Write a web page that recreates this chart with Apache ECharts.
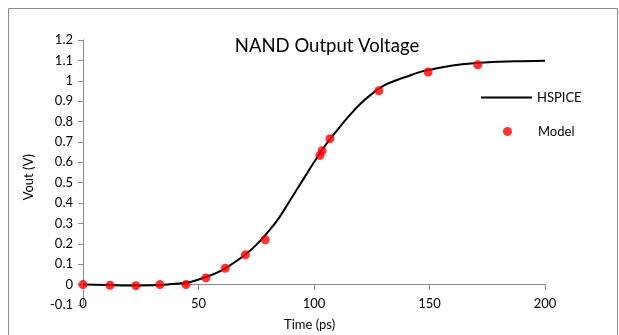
<!DOCTYPE html>
<html>
<head>
<meta charset="utf-8">
<script src="https://cdn.jsdelivr.net/npm/echarts@6/dist/echarts.min.js"></script>
<style>
html, body { margin: 0; padding: 0; background: #fff; }
#main { width: 619px; height: 335px; }
</style>
</head>
<body>
<div id="main"></div>
<script>
// HSPICE curve
var hspiceTime = [0, 10, 20, 30, 40, 45, 50, 55, 60, 65, 70, 75, 80, 85, 90, 95, 100, 105, 110, 115, 120, 125, 130, 135, 140, 145, 150, 160, 170, 180, 190, 200];
var hspiceVout = [0, -0.002, -0.004, -0.003, 0.004, 0.01, 0.025, 0.045, 0.07, 0.105, 0.145, 0.195, 0.257, 0.33, 0.42, 0.51, 0.6, 0.685, 0.757, 0.825, 0.886, 0.935, 0.975, 1.0, 1.02, 1.04, 1.054, 1.075, 1.087, 1.093, 1.096, 1.098];

// model points
var modelTime = [0, 11.7, 22.9, 33.3, 44.6, 53.2, 61.6, 70.3, 78.9, 102.6, 103.5, 106.9, 128.1, 149.4, 170.9];
var modelVout = [0, -0.003, -0.005, 0, 0, 0.033, 0.08, 0.146, 0.22, 0.634, 0.657, 0.716, 0.951, 1.043, 1.078];

var myChart = echarts.init(document.getElementById('main'));

var lineData = [];
for (var i = 0; i < hspiceTime.length; i++) {
    lineData.push([hspiceTime[i], hspiceVout[i]]);
}
var dotData = [];
for (var i = 0; i < modelTime.length; i++) {
    dotData.push([modelTime[i], modelVout[i]]);
}

var font = 'Lato, "Open Sans", sans-serif';

// x axis sits on y = 0, one 0.1 V step above the bottom of the grid
var stepPx = (335 - 40 - 30) / 13;

var option = {
    animation: false,
    textStyle: { fontFamily: font },
    title: {
        text: 'NAND Output Voltage',
        left: 322,
        textAlign: 'center',
        top: 32,
        textStyle: { fontSize: 18.5, fontWeight: 'normal', color: '#000', fontFamily: font }
    },
    graphic: [
        {
            type: 'rect',
            shape: { x: 8.5, y: 8.5, width: 609, height: 340 },
            style: { fill: 'none', stroke: '#8c8c8c', lineWidth: 1 },
            silent: true
        },
        {
            type: 'text',
            left: 22,
            top: 154,
            rotation: Math.PI / 2,
            style: { text: 'Vout (V)', fontSize: 13, fill: '#000', fontFamily: font }
        },
        {
            type: 'text',
            left: 284,
            top: 318,
            style: { text: 'Time (ps)', fontSize: 13, fill: '#000', fontFamily: font }
        }
    ],
    legend: [
        {
            data: ['HSPICE'],
            left: 476,
            top: 86,
            icon: 'rect',
            itemWidth: 51,
            itemHeight: 2,
            textStyle: { fontSize: 13, color: '#000', fontFamily: font }
        },
        {
            data: ['Model'],
            left: 498,
            top: 120,
            icon: 'circle',
            itemWidth: 9,
            itemHeight: 9,
            textStyle: { fontSize: 13, color: '#000', fontFamily: font, padding: [0, 0, 0, 21] }
        }
    ],
    grid: { left: 83, right: 74, top: 40, bottom: 30, containLabel: false },
    xAxis: {
        type: 'value',
        min: 0,
        max: 200,
        interval: 50,
        offset: -stepPx,
        axisLine: { onZero: false, lineStyle: { color: '#8c8c8c' } },
        axisTick: { length: 5, lineStyle: { color: '#8c8c8c' } },
        axisLabel: { margin: 13, fontSize: 13, color: '#000', fontFamily: font },
        splitLine: { show: false }
    },
    yAxis: {
        type: 'value',
        min: -0.1,
        max: 1.2,
        interval: 0.1,
        axisLine: { show: true, onZero: false, lineStyle: { color: '#8c8c8c' } },
        axisTick: { show: true, length: 5, lineStyle: { color: '#8c8c8c' } },
        axisLabel: { margin: 10, fontSize: 13, color: '#000', fontFamily: font },
        splitLine: { show: false }
    },
    series: [
        {
            name: 'HSPICE',
            type: 'line',
            data: lineData,
            smooth: 0.5,
            showSymbol: false,
            lineStyle: { color: '#000', width: 2 },
            itemStyle: { color: '#000' },
            z: 2
        },
        {
            name: 'Model',
            type: 'scatter',
            data: dotData,
            symbolSize: 9,
            itemStyle: { color: '#ff0000' },
            z: 3
        }
    ]
};

myChart.setOption(option);
</script>
</body>
</html>
